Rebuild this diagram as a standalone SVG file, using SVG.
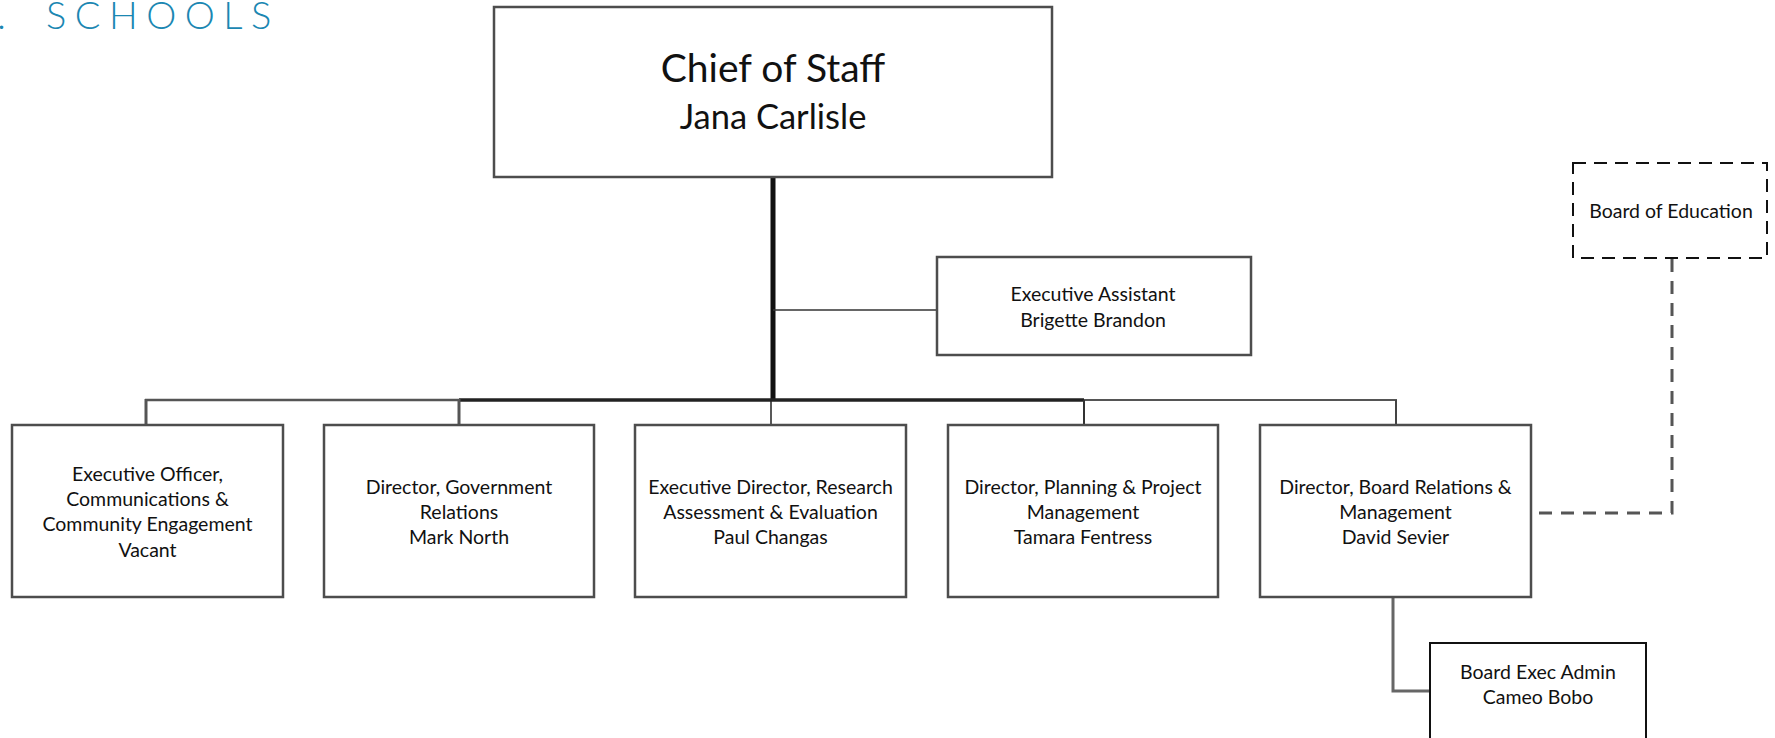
<svg xmlns="http://www.w3.org/2000/svg" width="1775" height="738" viewBox="0 0 1775 738">
<style>
.box{fill:#fff;stroke:#4d4d4d;stroke-width:2.5}
.t{font-family:Lato,"Liberation Sans",sans-serif;font-size:19.5px;fill:#111;text-anchor:middle}
.big{font-family:Lato,"Liberation Sans",sans-serif;fill:#111;text-anchor:middle}
.ln{fill:none;stroke-linecap:butt}
</style>
<rect width="1775" height="738" fill="#fff"/>
<text y="29" font-family="Lato,'Liberation Sans',sans-serif" font-weight="300" font-size="38" letter-spacing="8.5" fill="#1b87b2"><tspan x="-3">.</tspan><tspan x="46">SCHOOLS</tspan></text>

<g id="connectors">
<line class="ln" x1="773" y1="177" x2="773" y2="401" stroke="#111" stroke-width="5"/>
<line class="ln" x1="773" y1="310" x2="937" y2="310" stroke="#333" stroke-width="1.5"/>
<line class="ln" x1="145" y1="400" x2="459" y2="400" stroke="#555" stroke-width="2.5"/>
<line class="ln" x1="459" y1="400" x2="1084" y2="400" stroke="#222" stroke-width="3.5"/>
<line class="ln" x1="1084" y1="400" x2="1397" y2="400" stroke="#555" stroke-width="2"/>
<line class="ln" x1="146" y1="399" x2="146" y2="425" stroke="#555" stroke-width="3"/>
<line class="ln" x1="459" y1="399" x2="459" y2="425" stroke="#555" stroke-width="3"/>
<line class="ln" x1="771" y1="400" x2="771" y2="425" stroke="#222" stroke-width="1.5"/>
<line class="ln" x1="1084" y1="400" x2="1084" y2="425" stroke="#333" stroke-width="2"/>
<line class="ln" x1="1396" y1="400" x2="1396" y2="425" stroke="#444" stroke-width="2"/>
<path class="ln" d="M1393 597 V691 H1430" stroke="#666" stroke-width="3"/>
<path class="ln" d="M1672 259 V513 H1532" stroke="#555" stroke-width="3" stroke-dasharray="13 9"/>
</g>

<g id="chief">
<rect class="box" x="494" y="7" width="558" height="170" stroke-width="3"/>
<text class="big" x="773" y="82" font-size="39">Chief of Staff</text>
<text class="big" x="773" y="129" font-size="34.5">Jana Carlisle</text>
</g>

<g id="exec-assistant">
<rect class="box" x="937" y="257" width="314" height="98"/>
<text class="t" x="1093" y="301">Executive Assistant</text>
<text class="t" x="1093" y="327">Brigette Brandon</text>
</g>

<g id="board-of-education">
<rect x="1573" y="163" width="194" height="95" fill="#fff" stroke="#111" stroke-width="2" stroke-dasharray="13 8"/>
<text class="t" x="1671" y="218">Board of Education</text>
</g>

<g id="comms">
<rect class="box" x="12" y="425" width="271" height="172"/>
<text class="t" x="147.5" y="481">Executive Officer,</text>
<text class="t" x="147.5" y="506">Communications &amp;</text>
<text class="t" x="147.5" y="531">Community Engagement</text>
<text class="t" x="147.5" y="557">Vacant</text>
</g>

<g id="gov-relations">
<rect class="box" x="324" y="425" width="270" height="172"/>
<text class="t" x="459" y="494">Director, Government</text>
<text class="t" x="459" y="519">Relations</text>
<text class="t" x="459" y="544">Mark North</text>
</g>

<g id="research">
<rect class="box" x="635" y="425" width="271" height="172"/>
<text class="t" x="770.5" y="494">Executive Director, Research</text>
<text class="t" x="770.5" y="519">Assessment &amp; Evaluation</text>
<text class="t" x="770.5" y="544">Paul Changas</text>
</g>

<g id="planning">
<rect class="box" x="948" y="425" width="270" height="172"/>
<text class="t" x="1083" y="494">Director, Planning &amp; Project</text>
<text class="t" x="1083" y="519">Management</text>
<text class="t" x="1083" y="544">Tamara Fentress</text>
</g>

<g id="board-relations">
<rect class="box" x="1260" y="425" width="271" height="172"/>
<text class="t" x="1395.5" y="494">Director, Board Relations &amp;</text>
<text class="t" x="1395.5" y="519">Management</text>
<text class="t" x="1395.5" y="544">David Sevier</text>
</g>

<g id="board-exec-admin">
<rect x="1430" y="643" width="216" height="110" fill="#fff" stroke="#111" stroke-width="2"/>
<text class="t" x="1538" y="679">Board Exec Admin</text>
<text class="t" x="1538" y="704">Cameo Bobo</text>
</g>
</svg>
